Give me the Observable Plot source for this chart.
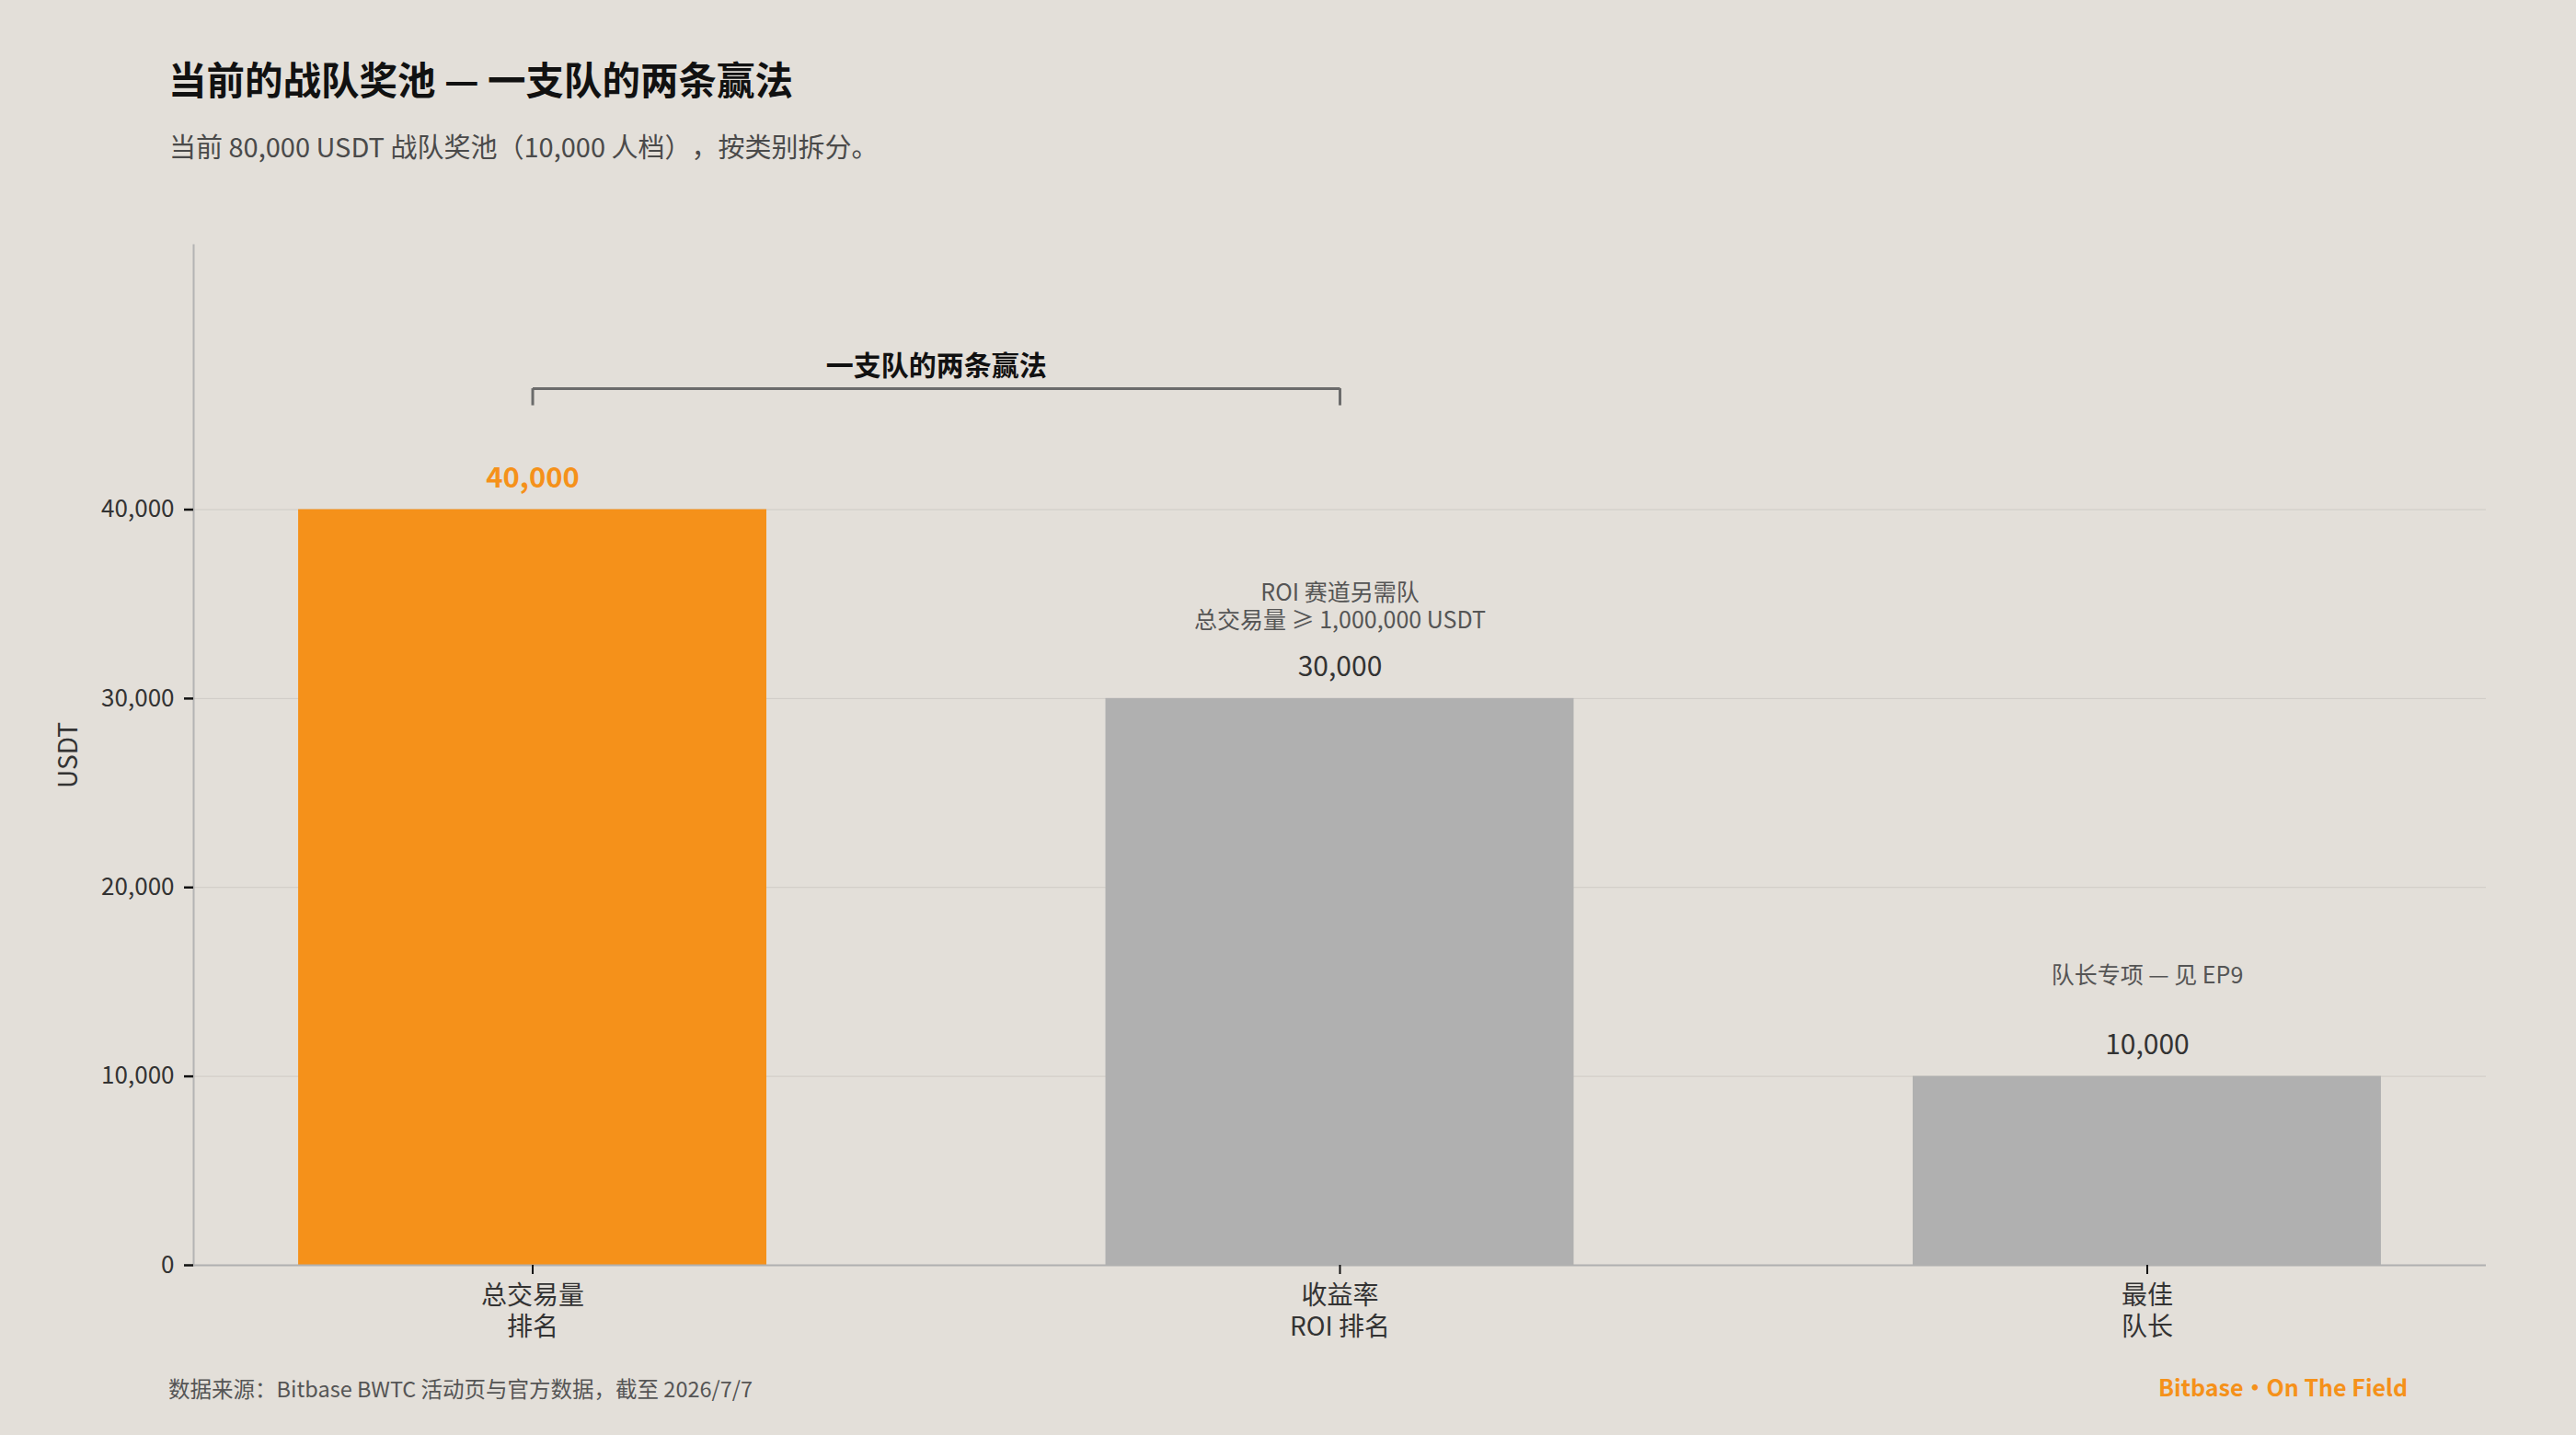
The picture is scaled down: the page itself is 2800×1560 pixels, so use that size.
<!DOCTYPE html>
<html>
<head>
<meta charset="utf-8">
<script src="https://cdn.jsdelivr.net/npm/d3@7"></script>
<script src="https://cdn.jsdelivr.net/npm/@observablehq/plot@0.6"></script>
<style>
  @font-face { font-family: "GeSym"; src: local("Noto Sans Regular"), local("NotoSans-Regular"), local("Noto Sans"), local("DejaVu Sans"); unicode-range: U+2265; }
  html, body { margin: 0; padding: 0; background: #E3DFD9; }
  body { width: 2800px; height: 1560px; position: relative; overflow: hidden; font-family: "Noto Sans CJK SC", "Noto Sans", sans-serif; text-spacing-trim: space-all; }
  .abs { position: absolute; line-height: 1; white-space: nowrap; }
  #title { left: 183px; top: 65px; font-size: 41.5px; font-weight: 700; color: #111; }
  #subtitle { left: 184px; top: 144px; font-size: 29px; color: #4a4a4a; }
  #caption { left: 183px; top: 1498px; font-size: 23.5px; color: #555; }
  #brand { right: 183px; top: 1495px; font-size: 25px; font-weight: 700; color: #F5911A; }
  #chart { position: absolute; left: 0; top: 182px; }
</style>
</head>
<body>
<div id="title" class="abs">当前的战队奖池 — 一支队的两条赢法</div>
<div id="subtitle" class="abs">当前 80,000 USDT 战队奖池（10,000 人档），按类别拆分。</div>
<div id="chart"></div>
<div id="caption" class="abs">数据来源：Bitbase BWTC 活动页与官方数据，截至 2026/7/7</div>
<div id="brand" class="abs">Bitbase・On The Field</div>
<script>
// ---- data ----
const categories = ["总交易量\n排名", "收益率\nROI 排名", "最佳\n队长"];
const prizes = [40000, 30000, 10000];
const notes = ["", "ROI 赛道另需队\n总交易量 ≥ 1,000,000 USDT", "队长专项 — 见 EP9"];
const highlighted = [true, false, false];
const yTicks = [0, 10000, 20000, 30000, 40000];
const gridTicks = [10000, 20000, 30000, 40000];
const yLabel = "USDT";
const bracketLabel = "一支队的两条赢法";
const bracketPair = [categories[0], categories[1]];
const bracketY = 46400;
const bracketTickY = 45500;
const bracketLabelY = 47600;
const yMax = 54000;

// ---- styling ----
const ORANGE = "#F5911A";
const GRAY = "#B0B0B0";
const BG = "#E3DFD9";
const W = 2800, H = 1283;
const ML = 210, MR = 98, MT = 84, MB = 90;
const fmt = d3.format(",");

const data = categories.map((c, i) => ({category: c, value: prizes[i], note: notes[i], hi: highlighted[i]}));
const bracket = [{a: bracketPair[0], b: bracketPair[1], y: bracketY}];

const xOpts = {type: "band", domain: categories, paddingInner: 0.42, paddingOuter: 0.13, round: false};
const xs = Plot.scale({x: {...xOpts, range: [ML, W - MR]}});
const halfStep = xs.step / 2;

const noteStyle = {x: "category", y: "value", text: "note", lineAnchor: "middle", lineHeight: 1.2, fontSize: 25, fill: "#555",
  fontFamily: '"GeSym", "Noto Sans CJK SC", "Noto Sans", sans-serif'};

const chart = Plot.plot({
  width: W, height: H,
  marginLeft: ML, marginRight: MR, marginTop: MT, marginBottom: MB,
  style: {background: BG, fontFamily: '"Noto Sans CJK SC", "Noto Sans", sans-serif', overflow: "visible"},
  x: {domain: categories, paddingInner: 0.42, paddingOuter: 0.13, round: false, label: null},
  y: {domain: [0, yMax], label: null},
  marks: [
    Plot.gridY(gridTicks, {stroke: "#cfcbc5", strokeOpacity: 1, strokeWidth: 1}),
    Plot.barY(data.filter(d => d.hi), {x: "category", y: "value", fill: ORANGE}),
    Plot.barY(data.filter(d => !d.hi), {x: "category", y: "value", fill: GRAY}),
    Plot.ruleY([0], {stroke: "#b0b0b0", strokeWidth: 2}),
    Plot.frame({anchor: "left", stroke: "#b4b4b4", strokeWidth: 2}),
    Plot.axisY({ticks: yTicks, tickFormat: fmt, tickSize: 10, tickPadding: 11, fontSize: 26, fill: "#333", stroke: "#111", strokeWidth: 2.5, label: null}),
    Plot.axisY({ticks: [], label: yLabel, labelAnchor: "center", labelArrow: "none", labelOffset: 146, fontSize: 28, fill: "#333"}),
    Plot.axisX({tickSize: 10, tickPadding: 9, fontSize: 28, lineHeight: 1.2, fill: "#333", stroke: "#111", strokeWidth: 2, label: null}),
    Plot.text(data.filter(d => d.hi), {x: "category", y: "value", text: d => fmt(d.value), dy: -34, lineAnchor: "middle", fontSize: 31, fontWeight: 700, fill: ORANGE}),
    Plot.text(data.filter(d => !d.hi), {x: "category", y: "value", text: d => fmt(d.value), dy: -34, lineAnchor: "middle", fontSize: 30, fill: "#333"}),
    Plot.text(data.filter(d => d.note && d.note.includes("\n")), {...noteStyle, dy: -101}),
    Plot.text(data.filter(d => d.note && !d.note.includes("\n")), {...noteStyle, dy: -111}),
    Plot.link(bracket, {x1: "a", x2: "b", y1: "y", y2: "y", stroke: "#6b6b6b", strokeWidth: 3}),
    Plot.ruleX(bracketPair, {y1: bracketY, y2: bracketTickY, stroke: "#6b6b6b", strokeWidth: 3}),
    Plot.text([bracketLabel], {x: () => bracketPair[0], y: () => bracketLabelY, text: d => d, dx: halfStep, lineAnchor: "middle", fontSize: 30, fontWeight: 700, fill: "#111"})
  ]
});
document.getElementById("chart").appendChild(chart);
</script>
</body>
</html>
